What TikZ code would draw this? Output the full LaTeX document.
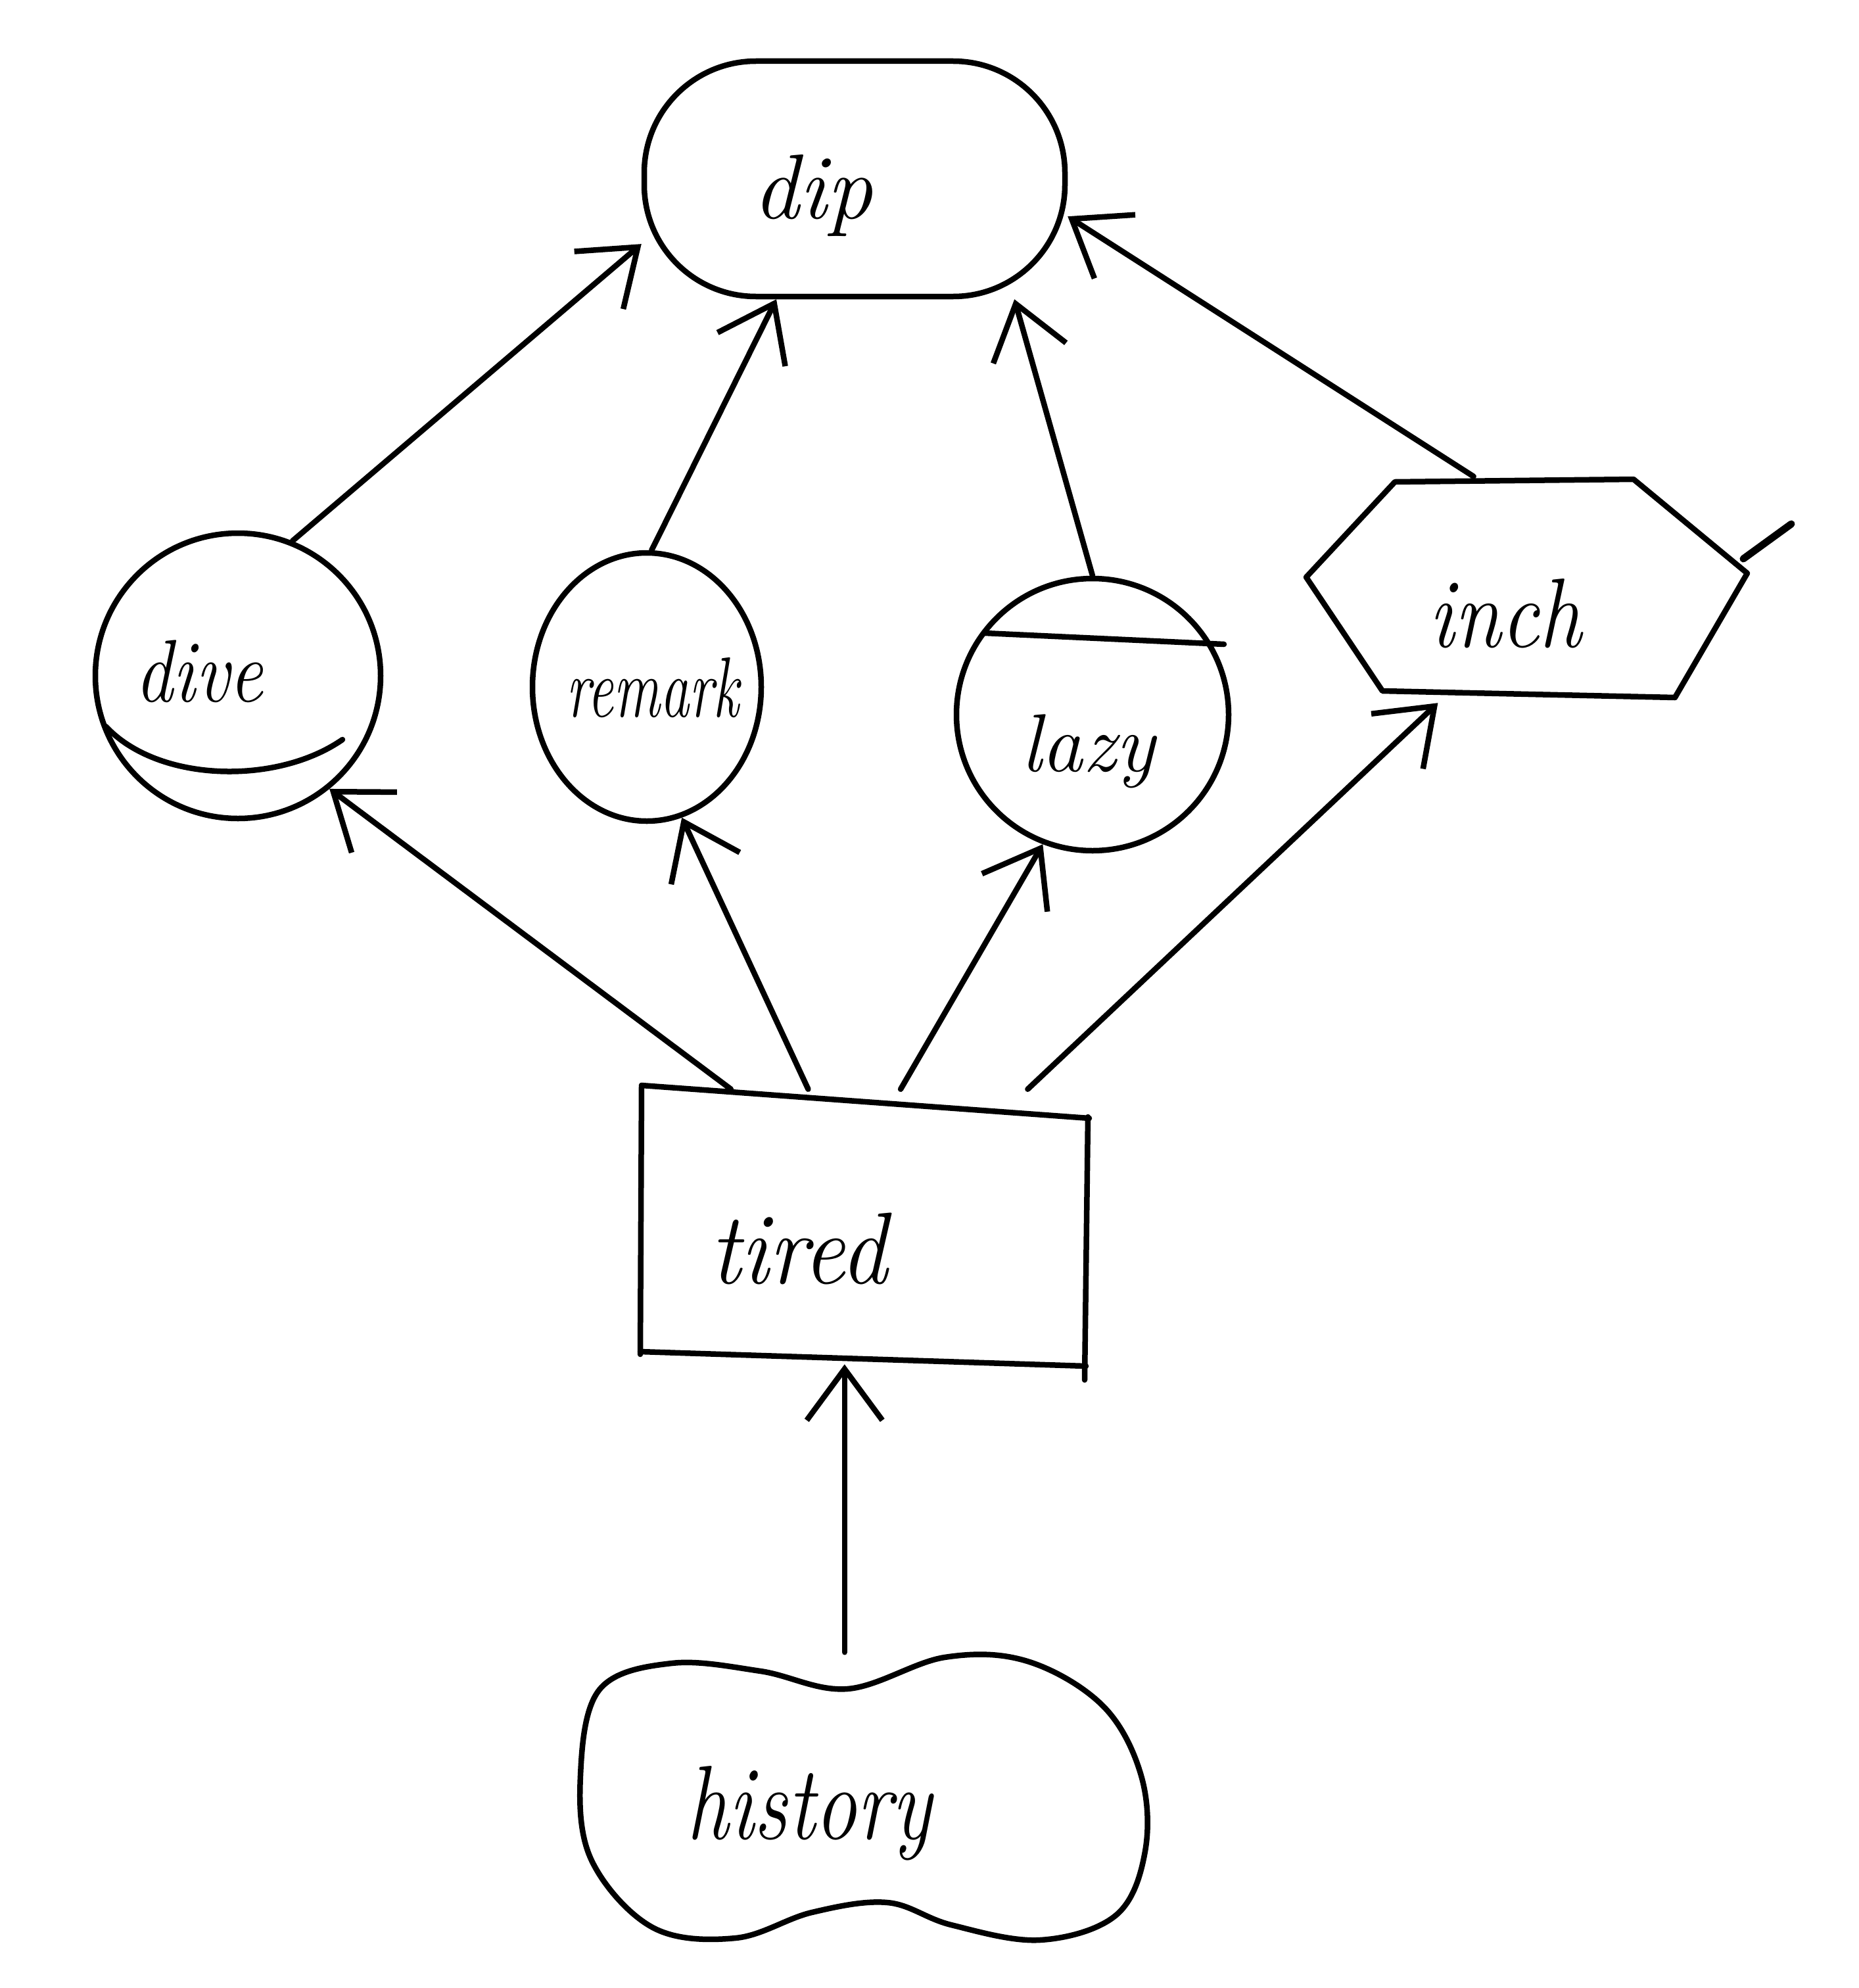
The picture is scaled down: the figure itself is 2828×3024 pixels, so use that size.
\documentclass[tikz,border=0pt]{standalone}
\usetikzlibrary{arrows.meta,shapes.geometric,calc}
\begin{document}
\begin{tikzpicture}[x=1pt,y=-1pt,line width=8.5pt,line cap=round,line join=round,
  shp/.style={draw,inner sep=0pt},
  anc/.style={inner sep=0pt},
  lbl/.style={font=\fontsize{#1}{#1}\selectfont\itshape,anchor=base,inner sep=0pt},
  arr/.style={-{Straight Barb[length=78pt,width=115pt]}}]
\useasboundingbox (0,0) rectangle (2828,3024);

% shapes
\node[shp,rectangle,rounded corners=170pt,minimum width=640pt,minimum height=358pt] (dip) at (1300,272) {};
\node[shp,circle,minimum size=434pt] (dive) at (362,1028) {};
\node[shp,ellipse,minimum width=348pt,minimum height=408pt] (remark) at (984,1045) {};
\node[shp,circle,minimum size=414pt] (lazy) at (1662,1087) {};
\node[anc,rectangle,minimum width=671pt,minimum height=336pt] (inch) at (2322,897) {};
\node[anc,rectangle,minimum width=680pt,minimum height=410pt] (tired) at (1314,1866) {};
\node[anc,ellipse,minimum width=860pt,minimum height=436pt] (history) at (1312,2735) {};

% lower segment inside dive
\draw (161,1105) .. controls (240,1190) and (420,1195) .. (521,1125);
% upper segment inside lazy
\draw (1498,963) -- (1862,980);

% hexagon around inch
\draw (2122,733) -- (2485,729) -- (2658,872) -- (2548,1061) -- (2103,1051) -- (1987,878) -- cycle;
\draw[line width=11pt] (2652,850) -- (2725,797);

% box around tired
\draw (976,1651) -- (1657,1701);
\draw (1655,1699) -- (1650,2099);
\draw (974,2056) -- (1652,2078);
\draw (976,1651) -- (974,2060);

% outline around history
\draw plot[smooth cycle,tension=0.6] coordinates {
  (883,2701) (912,2570) (1022,2530) (1157,2542) (1289,2569) (1437,2521)
  (1563,2527) (1678,2595) (1736,2701) (1742,2816) (1698,2913) (1582,2951)
  (1447,2928) (1350,2894) (1235,2909) (1119,2948) (993,2932) (900,2830)};

% labels
\node[lbl=140] (dip-t) at (1236,332) {dip};
\node[lbl=135,xscale=0.85] (dive-t) at (303,1067) {dive};
\node[lbl=130,xscale=0.68] (remark-t) at (993,1090) {remark};
\node[lbl=125] (lazy-t) at (1655,1173) {lazy};
\node[lbl=150,xscale=0.86] (inch-t) at (2290,984) {inch};
\node[lbl=155,xscale=0.92] (tired-t) at (1215,1952) {tired};
\node[lbl=160,xscale=0.8] (history-t) at (1231,2797) {history};

% connectors
\draw[arr] (dive.68) -- (dip.197);
\draw[arr] (remark.88) -- (dip.237);
\draw[arr] (lazy.north) -- (dip.-37);
\draw[arr] (inch.115) -- (dip.-10);
\draw[arr] (tired.134) -- (dive.-51);
\draw[arr] (tired.112) -- (remark.-75);
\draw[arr] (tired.75) -- (lazy.-111);
\draw[arr] (tired.40) -- (inch.-128);
\draw[arr] (history.97) -- (history.97 |- tired.south);
\end{tikzpicture}
\end{document}
